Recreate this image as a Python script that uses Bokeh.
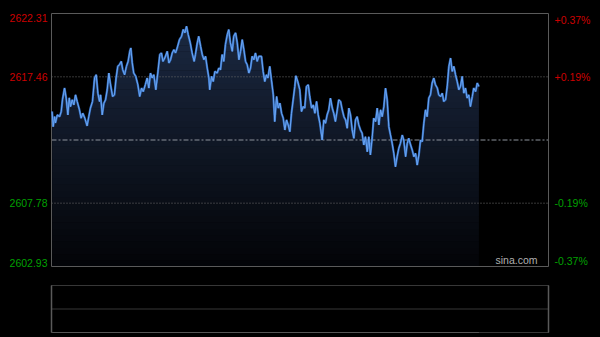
import numpy as np
from bokeh.plotting import figure
from bokeh.models import Range1d, Label
from bokeh.layouts import column
from bokeh.embed import file_html
from bokeh.resources import INLINE

# ---- data (minutes after 09:30, index price) ----
minutes = [0.3, 0.8, 1.5, 1.9, 2.8, 3.9, 4.7, 5.3, 6.3, 7.1,
           7.9, 8.6, 9.2, 10.0, 10.8, 11.6, 12.4, 13.5, 14.3, 15.1,
           16.1, 17.2, 18.0, 18.8, 19.8, 20.8, 21.6, 22.4, 23.2, 23.7,
           24.5, 25.3, 26.1, 26.9, 27.7, 28.5, 29.5, 30.4, 31.2, 32.0,
           32.8, 33.7, 34.4, 35.3, 36.2, 37.0, 37.8, 38.3, 39.0, 39.7,
           40.7, 41.7, 42.6, 43.5, 44.3, 45.3, 46.2, 47.0, 47.8, 48.6,
           49.4, 50.4,
           51.5, 52.3, 53.1, 53.8, 54.7, 55.9, 56.7, 57.5, 58.3, 59.1,
           59.9, 60.7, 61.8, 62.8, 63.6, 64.4, 65.2, 66.0, 67.0, 67.9,
           68.9, 69.5, 70.4, 71.1, 72.0, 72.8, 73.6, 74.4, 75.2, 76.0,
           76.4, 77.3, 78.1, 78.9, 80.0, 80.8, 81.6, 82.4, 83.2, 84.0,
           84.9, 85.6, 86.4, 87.3, 88.0, 88.9, 89.7, 90.5, 91.3, 92.1,
           92.9, 93.7, 94.5, 95.3, 96.1, 96.9, 97.7, 98.5, 99.3, 100.1,
           101.4, 102.2, 103.0, 103.8, 104.5, 105.4, 106.2, 107.1, 107.8, 108.7,
           109.5, 110.3, 111.1, 111.9, 112.7, 113.5, 114.3, 115.1, 115.9, 116.7,
           117.5, 118.0, 118.9, 119.9, 120.7, 121.6, 122.3, 123.1, 124.0, 124.7,
           125.6, 126.4, 127.2, 128.0, 128.8, 129.6, 130.7, 131.5, 132.3, 133.1,
           133.9, 134.7, 135.6, 136.3, 137.1, 138.0, 138.7, 139.6, 140.4, 141.2,
           142.0, 142.8, 143.6, 144.4, 145.2, 146.0, 146.8, 147.6, 148.4, 149.2,
           150.0, 150.8,
           151.6, 152.5, 153.2, 154.0, 154.9, 155.6, 156.5, 157.3, 158.1, 158.9,
           159.7, 160.5, 161.3, 162.1, 162.9, 163.7, 164.5, 165.3, 166.1, 166.9,
           167.7, 168.5, 169.4, 170.1, 171.0, 171.8, 172.5, 173.4, 174.2, 175.0,
           175.8, 176.6, 177.4, 178.2, 179.0, 179.8, 180.6, 181.4, 182.2, 183.0,
           183.8, 184.6, 185.4, 186.3, 187.0, 187.9, 188.7, 189.4, 190.3, 191.1,
           191.9, 192.7, 193.5, 194.3, 195.1, 195.9, 196.7, 197.5, 198.3, 199.1,
           199.9, 200.7, 201.5, 202.3, 203.2, 203.9, 204.8, 205.6, 206.4]

prices = [2614.80, 2613.64, 2614.41, 2613.93, 2614.54, 2614.41, 2614.80, 2615.70, 2616.60, 2615.83,
          2614.54, 2615.85, 2615.18, 2615.70, 2615.31, 2616.08, 2615.57, 2614.93, 2614.29, 2614.67,
          2614.29, 2613.70, 2614.41, 2615.06, 2615.57, 2617.37, 2617.62, 2616.21, 2615.57, 2616.08,
          2614.54, 2615.44, 2615.70, 2616.47, 2617.75, 2616.85, 2615.95, 2616.08, 2617.37, 2618.26,
          2618.39, 2618.64, 2618.00, 2617.62, 2618.26, 2618.64, 2619.41, 2619.67, 2618.52, 2617.75,
          2617.49, 2616.85, 2615.95, 2616.60, 2616.33, 2616.85, 2617.37, 2616.60, 2617.75, 2617.37,
          2617.62, 2616.47,
          2618.00, 2619.16, 2619.29, 2618.64, 2618.90, 2619.41, 2618.52, 2618.77, 2619.29, 2619.54,
          2619.29, 2619.67, 2620.31, 2620.56, 2621.08, 2620.83, 2621.33, 2620.70, 2620.06, 2619.29,
          2618.64, 2619.16, 2620.06, 2620.56, 2619.80, 2619.16, 2618.77, 2619.03, 2618.13, 2617.37,
          2616.47, 2617.49, 2617.10, 2617.87, 2617.75, 2618.13, 2618.00, 2619.16, 2618.64, 2619.93,
          2620.70, 2621.08, 2620.06, 2619.41, 2620.56, 2620.83, 2620.06, 2618.77, 2619.41, 2620.31,
          2619.54, 2618.64, 2618.39, 2617.75, 2618.13, 2619.03, 2618.77, 2619.29, 2618.64, 2619.03,
          2619.03, 2617.87, 2617.10, 2617.62, 2617.37, 2618.26, 2617.23, 2616.08, 2614.03, 2615.95,
          2615.06, 2615.44, 2614.67, 2614.29, 2613.39, 2614.16, 2613.77, 2613.26, 2614.67, 2615.70,
          2616.72, 2617.54, 2617.10, 2616.47, 2614.80, 2615.18, 2615.06, 2616.72, 2616.85, 2615.95,
          2615.06, 2615.31, 2614.67, 2615.57, 2614.54, 2613.90, 2612.62, 2614.16, 2613.90, 2614.54,
          2614.93, 2615.83, 2615.06, 2614.67, 2614.03, 2614.93, 2615.70, 2615.57, 2614.93, 2614.41,
          2614.16, 2613.52, 2615.06, 2614.54, 2613.39, 2612.75, 2614.16, 2614.41, 2613.77, 2613.39,
          2613.14, 2612.24,
          2612.87, 2611.72, 2612.87, 2611.47, 2612.87, 2614.29, 2614.03, 2615.06, 2613.77, 2614.93,
          2614.41, 2615.18, 2616.60, 2615.70, 2613.64, 2613.00, 2612.37, 2611.60, 2610.57, 2611.34,
          2611.98, 2612.37, 2613.00, 2612.62, 2611.34, 2612.37, 2612.75, 2612.24, 2611.85, 2611.34,
          2611.60, 2610.70, 2611.47, 2612.62, 2612.49, 2613.90, 2614.93, 2614.41, 2615.83, 2616.08,
          2616.98, 2617.37, 2616.85, 2616.60, 2616.08, 2615.95, 2616.21, 2615.57, 2615.70, 2616.72,
          2618.26, 2618.90, 2617.87, 2618.26, 2617.62, 2617.10, 2616.47, 2616.72, 2617.49, 2616.21,
          2616.60, 2615.83, 2616.08, 2615.18, 2615.95, 2616.60, 2616.33, 2616.98, 2616.72]

level_values = [2602.93, 2607.78, 2617.46, 2622.31]
level_labels = ["2602.93", "2607.78", "2617.46", "2622.31"]
pct_labels = ["-0.37%", "-0.19%", "+0.19%", "+0.37%"]
prev_close = 2612.62
session_start, session_end = 0, 240
watermark = "sina.com"

# ---- styling / layout ----
RED, GREEN = "#cc0000", "#00a000"
label_colors = [GREEN, GREEN, RED, RED]
baselines = ["bottom", "middle", "middle", "top"]
FONT = "Liberation Sans"
W = 600
FR_L, FR_R = 51, 548          # plot-box pixel edges (horizontal)
FR_T, FR_B, H1 = 13, 266, 280  # plot-box pixel edges (vertical) in the top figure

lo, hi = level_values[0], level_values[-1]
xpp = (session_end - session_start) / (FR_R - FR_L)
ypp = (hi - lo) / (FR_B - FR_T)
xr = Range1d(session_start - FR_L * xpp, session_end + (W - FR_R) * xpp)
yr = Range1d(lo - (H1 - FR_B) * ypp, hi + FR_T * ypp)

t = np.array(minutes, dtype=float)
y = np.array(prices, dtype=float)

p = figure(width=W, height=H1, output_backend="svg", toolbar_location=None,
           x_axis_type=None, y_axis_type=None, x_range=xr, y_range=yr,
           min_border=0)
p.background_fill_color = "black"
p.border_fill_color = "black"
p.outline_line_color = None

# gradient fill under the price line (banded)
nb = 40
edges = np.linspace(lo, hi, nb + 1)
top_rgb = np.array([28, 42, 68], dtype=float)
bot_rgb = np.array([3, 4, 7], dtype=float)
eps = 0.03
for k in range(nb):
    a, b = edges[k], edges[k + 1]
    f = (k + 0.5) / nb
    c = bot_rgb + (top_rgb - bot_rgb) * f
    col = "#%02x%02x%02x" % tuple(int(round(v)) for v in c)
    a0 = max(a - eps, lo)
    p.varea(x=t, y1=np.full_like(y, a0), y2=np.clip(y, a0, b),
            fill_color=col, fill_alpha=1.0)

# reference lines
p.segment(x0=[session_start] * 2, x1=[session_end] * 2,
          y0=[level_values[1], level_values[2]], y1=[level_values[1], level_values[2]],
          line_color="#6e6e6e", line_dash="1 2", line_width=1)
p.segment(x0=[session_start], x1=[session_end], y0=[prev_close], y1=[prev_close],
          line_color="#8d939c", line_dash="5 2 2 2", line_width=1)

# plot box
p.line([session_start, session_end, session_end, session_start, session_start],
       [lo, lo, hi, hi, lo], line_color="#5a5a5a", line_width=1)

# price line
p.line(t, y, line_color="#3570c4", line_width=2.2, line_alpha=0.9)
p.line(t, y, line_color="#6aa6f4", line_width=1.0)

# axis labels
for val, txt, pct, col, base in zip(level_values, level_labels, pct_labels, label_colors, baselines):
    p.add_layout(Label(x=session_start, y=val, text=txt, x_offset=-4, text_align="right",
                       text_baseline=base, text_color=col, text_font=FONT,
                       text_font_size="10.5px"))
    p.add_layout(Label(x=session_end, y=val, text=pct, x_offset=6, text_align="left",
                       text_baseline=base, text_color=col, text_font=FONT,
                       text_font_size="10.5px"))

p.add_layout(Label(x=session_end, y=lo, text=watermark, x_offset=-11,
                   y_offset=1, text_align="right", text_baseline="bottom",
                   text_color="#b0b0b0", text_font=FONT, text_font_size="10.5px"))

# ---- volume panel ----
V_T, V_B, H2 = 5, 52, 57
vlo, vhi = 0.0, 1.0
vpp = (vhi - vlo) / (V_B - V_T)
p2 = figure(width=W, height=H2, output_backend="svg", toolbar_location=None,
            x_axis_type=None, y_axis_type=None, x_range=xr,
            y_range=Range1d(vlo - (H2 - V_B) * vpp, vhi + V_T * vpp), min_border=0)
p2.background_fill_color = "black"
p2.border_fill_color = "black"
p2.outline_line_color = None
vmid = (vlo + vhi) / 2
p2.segment(x0=[session_start] * 3, x1=[session_end] * 3, y0=[vlo, vmid, vhi],
           y1=[vlo, vmid, vhi], line_color="#6e6e6e", line_dash="1 1", line_width=1)
p2.segment(x0=[session_start, session_end], x1=[session_start, session_end],
           y0=[vlo, vlo], y1=[vhi, vhi], line_color="#5a5a5a", line_width=1.5)
p2.line([minutes[0], minutes[-1]], [vlo, vlo], line_color="#555555", line_width=1)

layout = column(p, p2, spacing=0)
layout.styles = {"background-color": "black"}

html = file_html(layout, INLINE)
html = html.replace("<body>", '<body style="margin:0;background:black;">')
open("out.html", "w").write(html)
